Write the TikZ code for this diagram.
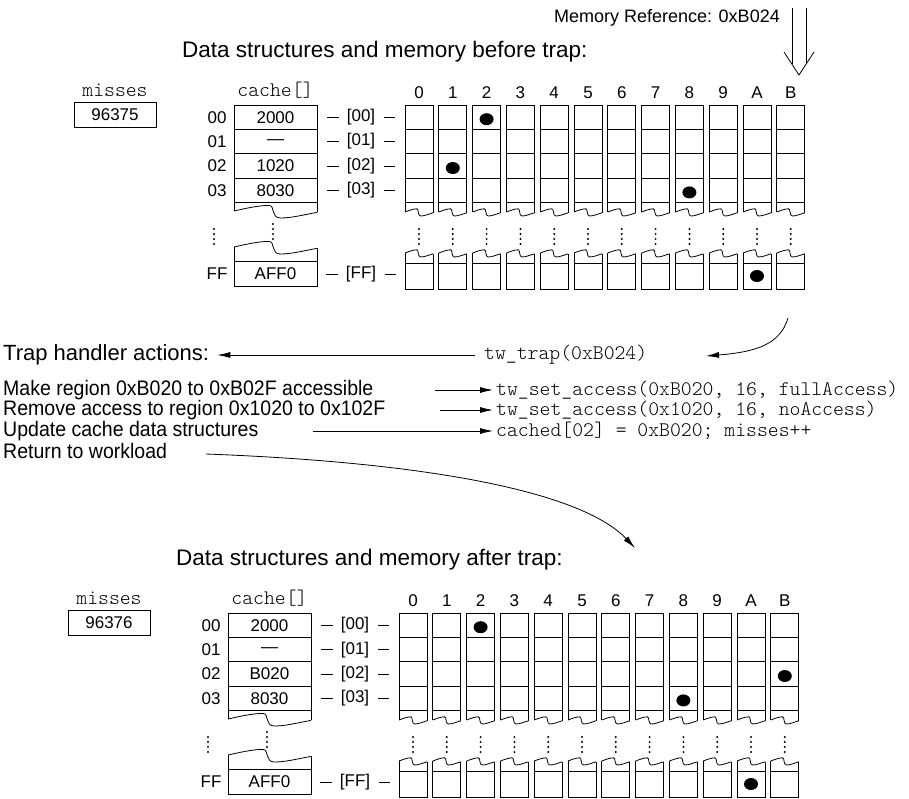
\documentclass[tikz,border=0pt]{standalone}
\usepackage{fontspec}
\setmainfont{Liberation Sans}
\newfontfamily\courfont{lmmonolt10-regular.otf}
\newfontfamily\narrowfont[FakeStretch=0.93]{Liberation Sans}
\usetikzlibrary{arrows.meta}

\tikzset{
  x=1pt, y=-1pt,
  ln/.style={line width=0.8pt},
  arr/.style={line width=0.8pt, -{Latex[length=13pt,width=6pt]}},
  ttl/.style={inner sep=0pt, font=\fontsize{22.5}{27}\selectfont},
  lab/.style={inner sep=0pt, font=\fontsize{17}{20}\selectfont},
  code/.style={inner sep=0pt, font=\courfont\fontsize{20.7}{24}\selectfont},
  act/.style={inner sep=0pt, anchor=west, font=\narrowfont\fontsize{21}{24}\selectfont},
  numbox/.style={draw, line width=0.8pt, minimum width=82pt, minimum height=25pt,
    inner sep=0pt, font=\fontsize{17}{20}\selectfont},
}

% torn edge from (#1,#3) to (#2,#3), amplitude #4
\newcommand\tearline[4]{%
  \draw[ln] (#1,#3)
    .. controls ({#1+0.15*(#2-#1)},{#3-0.4*#4}) and ({#1+0.3*(#2-#1)},{#3-0.8*#4}) .. ({#1+0.42*(#2-#1)},{#3-0.8*#4})
    .. controls ({#1+0.5*(#2-#1)},{#3-0.8*#4}) and ({#1+0.44*(#2-#1)},{#3+#4}) .. ({#1+0.56*(#2-#1)},{#3+#4})
    .. controls ({#1+0.7*(#2-#1)},{#3+#4}) and ({#1+0.85*(#2-#1)},{#3+0.5*#4}) .. (#2,{#3+0.2*#4});}

% upper piece: left, right, top, torn bottom, amplitude, row lines
\newcommand\upperpiece[6]{%
  \draw[ln] (#1,#4) -- (#1,#3) -- (#2,#3) -- (#2,{#4+0.2*#5});
  \foreach \yy in {#6} {\draw[ln] (#1,\yy) -- (#2,\yy);}
  \tearline{#1}{#2}{#4}{#5}}

% lower piece: left, right, torn top, row line, bottom, amplitude
\newcommand\lowerpiece[6]{%
  \tearline{#1}{#2}{#3}{#6}
  \draw[ln] (#1,#3) -- (#1,#5) -- (#2,#5) -- (#2,{#3+0.2*#6});
  \draw[ln] (#1,#4) -- (#2,#4);}

% column of small dots
\newcommand\dotcol[2]{%
  \foreach \k in {0,1,2,3} {\fill ({#1},{#2+5*\k}) circle (1.1pt);}}

% one panel: name prefix, title, miss count, cache slot 02
\newcommand\drawpanel[4]{%
  \node[ttl, anchor=west] (#1title) at (182,52) {#2};
  \node[code] (#1mlab) at (115,90) {misses};
  \node[numbox] (#1misses) at (115,114.5) {#3};
  \node[code] (#1clab) at (275.5,90) {cache[]};
  \upperpiece{234}{317}{105}{211}{7}{129.4,153.8,178.2,202.6}
  \lowerpiece{234}{317}{247}{261}{286}{7}
  \dotcol{214}{229}
  \dotcol{273}{224}
  \foreach \r/\rl/\v in {117.2/00/2000, 141.6/01/—, 166/02/#4, 190.4/03/8030, 274/FF/AFF0} {
    \node[lab] (#1row\rl) at (217,\r) {\rl};
    \node[lab] (#1val\rl) at (275.5,\r) {\v};
    \node[lab] (#1tag\rl) at (361,\r) {[\rl]};
    \draw[ln] ([xshift=-8pt]#1tag\rl.west) -- ++(-12,0);
    \draw[ln] ([xshift=9pt]#1tag\rl.east) -- ++(11,0);
  }
  \foreach \lab [count=\c from 0] in {0,1,2,3,4,5,6,7,8,9,A,B} {
    \pgfmathsetmacro\cx{419+33.8*\c}
    \pgfmathsetmacro\xl{\cx-14}
    \pgfmathsetmacro\xr{\cx+14}
    \node[lab] (#1col\lab) at (\cx,93) {\lab};
    \upperpiece{\xl}{\xr}{105}{212}{4}{129.4,153.8,178.2,202.6}
    \lowerpiece{\xl}{\xr}{253}{263}{289}{4}
    \dotcol{\cx}{229}
  }
}

\begin{document}
\begin{tikzpicture}
\fill[white] (0,0) rectangle (909,798);
\useasboundingbox (0,0) rectangle (909,798);

% incoming reference
\node[anchor=east, inner sep=0pt, font=\fontsize{18}{20}\selectfont] (memref) at (780,18) {Memory Reference: 0xB024};
\draw[ln] (792,8) -- (792,64.3);
\draw[ln] (806,8) -- (806,64.3);
\draw[ln] (784,52) -- (799,75) -- (814,52);

% state before the trap
\drawpanel{top}{Data structures and memory before trap:}{96375}{1020}
\foreach \c/\r in {2/00, 1/02, 8/03, A/FF}
  {\fill ([yshift=-2pt]toptag\r -| topcol\c) ellipse (7pt and 6pt);}

% trap handler
\node[inner sep=0pt, anchor=west, font=\fontsize{22}{26}\selectfont] (thact) at (3,355) {Trap handler actions:};
\node[code, anchor=west] (twtrap) at (484,355) {tw\_trap(0xB024)};
\draw[arr] ([xshift=-9pt]twtrap.west) -- ([xshift=8pt]thact.east);
\coordinate (faultsrc) at (788,318);
\coordinate (faulttip) at (706,356);
\draw[arr] (faultsrc) .. controls (780,345) and (755,352) .. (faulttip);

\node[act] (a1) at (3,390) {Make region 0xB020 to 0xB02F accessible};
\node[act] (a2) at (3,410) {Remove access to region 0x1020 to 0x102F};
\node[act] (a3) at (3,431) {Update cache data structures};
\node[act] (a4) at (3,451) {Return to workload};
\node[code, anchor=west] (c1) at (496,390) {tw\_set\_access(0xB020, 16, fullAccess)};
\node[code, anchor=west] (c2) at (496,410) {tw\_set\_access(0x1020, 16, noAccess)};
\node[code, anchor=west] (c3) at (496,431) {cached[02] = 0xB020; misses++};
\coordinate (t1) at (435,390);
\coordinate (t2) at (440,410);
\coordinate (t3) at (313,431);
\draw[arr] (t1) -- ([xshift=-3pt]c1.west);
\draw[arr] (t2) -- ([xshift=-3pt]c2.west);
\draw[arr] (t3) -- ([xshift=-3pt]c3.west);
\coordinate (r0) at (206,454);
\coordinate (r1) at (635,548);
\draw[arr] (r0) .. controls (420,462) and (580,490) .. (r1);

% state after the trap
\begin{scope}[shift={(-6,508)}]
\drawpanel{bot}{Data structures and memory after trap:}{96376}{B020}
\foreach \c/\r in {2/00, B/02, 8/03, A/FF}
  {\fill ([yshift=-2pt]bottag\r -| botcol\c) ellipse (7pt and 6pt);}
\end{scope}
\end{tikzpicture}
\end{document}
